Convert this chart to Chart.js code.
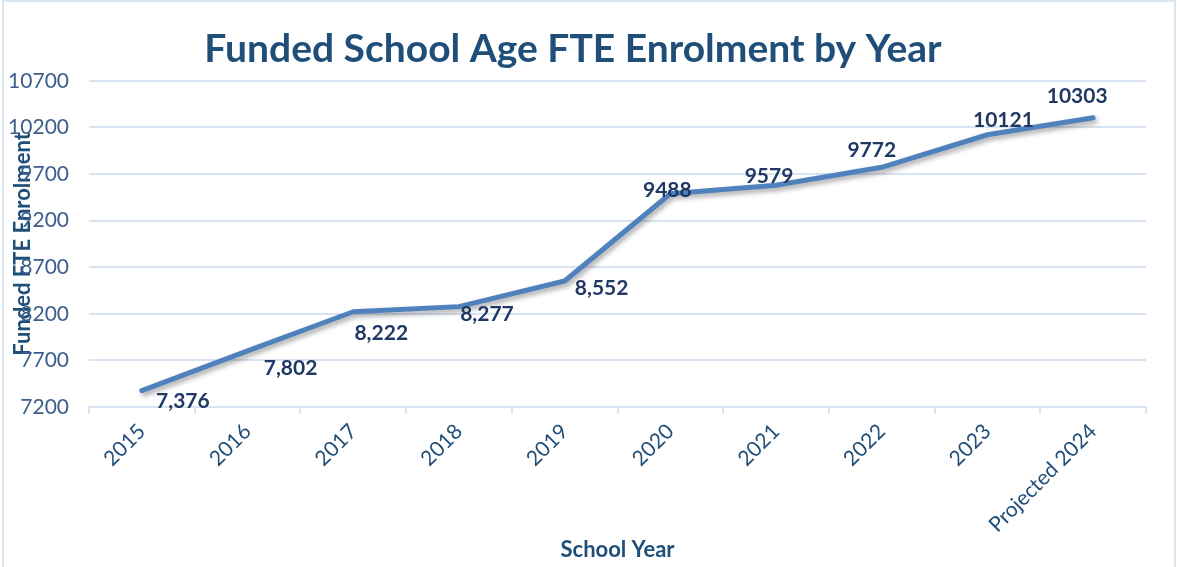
<!DOCTYPE html>
<html>
<head>
<meta charset="utf-8">
<script src="https://cdn.jsdelivr.net/npm/chart.js@4.4.1/dist/chart.umd.min.js"></script>
<style>
  html, body { margin: 0; padding: 0; background: #fff; }
  #wrap { position: relative; width: 1177px; height: 567px; overflow: hidden; }
  #frame { position: absolute; left: 2px; top: 0; width: 1170px; height: 600px; border: 2px solid #DCE6F2; pointer-events: none; }
  canvas { display: block; }
</style>
</head>
<body>
<div id="wrap">
  <canvas id="enrolment-chart" width="1177" height="567"></canvas>
  <div id="frame"></div>
</div>
<script>
var years = ['2015', '2016', '2017', '2018', '2019', '2020', '2021', '2022', '2023', 'Projected 2024'];
var enrolment = [7376, 7802, 8222, 8277, 8552, 9488, 9579, 9772, 10121, 10303];
var yMin = 7200;
var yMax = 10700;
var yStep = 500;

// where each value label sits relative to its point (px)
var labelOffsetX = [41, 43, 28, 28, 37, -3, -7, -10, 16, -16];
var labelOffsetY = [11, 17, 21, 8, 7, -4, -9, -17, -15, -22];
// first five labels carry a thousands separator in the original
var labelText = enrolment.map(function (v, i) {
  return i < 5 ? v.toLocaleString('en-US') : String(v);
});

var fontFamily = 'Lato, "Open Sans", sans-serif';
var navy = '#1F4E79';
var lineBlue = '#4F81BD';
var gridBlue = '#D9E4F2';

var lineShadow = {
  id: 'lineShadow',
  beforeDatasetDraw: function (chart) {
    var ctx = chart.ctx;
    ctx.save();
    ctx.shadowColor = 'rgba(0, 0, 0, 0.35)';
    ctx.shadowBlur = 5;
    ctx.shadowOffsetX = 2;
    ctx.shadowOffsetY = 3;
  },
  afterDatasetDraw: function (chart) {
    chart.ctx.restore();
  }
};

var pointLabels = {
  id: 'pointLabels',
  afterDatasetsDraw: function (chart) {
    var ctx = chart.ctx;
    var meta = chart.getDatasetMeta(0);
    ctx.save();
    ctx.font = 'bold 21px ' + fontFamily;
    ctx.fillStyle = '#203864';
    ctx.textAlign = 'center';
    ctx.textBaseline = 'middle';
    meta.data.forEach(function (pt, i) {
      ctx.fillText(labelText[i], pt.x + labelOffsetX[i], pt.y + labelOffsetY[i]);
    });
    ctx.restore();
  }
};

var enrolmentChart = new Chart(document.getElementById('enrolment-chart'), {
  type: 'line',
  data: {
    labels: years,
    datasets: [{
      label: 'Funded FTE Enrolment',
      data: enrolment,
      borderColor: lineBlue,
      borderWidth: 5,
      borderCapStyle: 'round',
      borderJoinStyle: 'round',
      pointRadius: 0,
      pointHoverRadius: 0,
      tension: 0,
      fill: false
    }]
  },
  options: {
    responsive: false,
    animation: false,
    layout: {
      padding: { left: 0, right: 31, top: 0, bottom: 0 }
    },
    plugins: {
      legend: { display: false },
      tooltip: { enabled: false },
      title: {
        display: true,
        text: 'Funded School Age FTE Enrolment by Year',
        color: navy,
        font: { family: fontFamily, size: 39, weight: 'bold' },
        padding: { top: 26, bottom: 8 }
      }
    },
    scales: {
      x: {
        offset: true,
        grid: {
          offset: true,
          drawOnChartArea: false,
          drawTicks: true,
          tickLength: 7,
          color: gridBlue,
          lineWidth: 2
        },
        border: { display: true, color: gridBlue, width: 2 },
        ticks: {
          minRotation: 45,
          maxRotation: 45,
          autoSkip: false,
          padding: 5,
          color: navy,
          font: { family: fontFamily, size: 21 }
        },
        title: {
          display: true,
          text: 'School Year',
          color: navy,
          font: { family: fontFamily, size: 22, weight: 'bold' },
          padding: { top: 0, bottom: 4 }
        },
        afterFit: function (scale) { scale.height = 160; }
      },
      y: {
        min: yMin,
        max: yMax,
        grid: { color: gridBlue, lineWidth: 2, drawTicks: false },
        border: { display: false },
        ticks: {
          stepSize: yStep,
          padding: 20,
          color: '#3B5E8C',
          font: { family: fontFamily, size: 21 },
          callback: function (value) { return String(value); }
        },
        title: {
          display: true,
          text: 'Funded FTE Enrolment',
          color: navy,
          font: { family: fontFamily, size: 22, weight: 'bold' },
          padding: { top: 10, bottom: 0 }
        },
        afterFit: function (scale) { scale.width = 89; }
      }
    }
  },
  plugins: [lineShadow, pointLabels]
});
</script>
</body>
</html>
